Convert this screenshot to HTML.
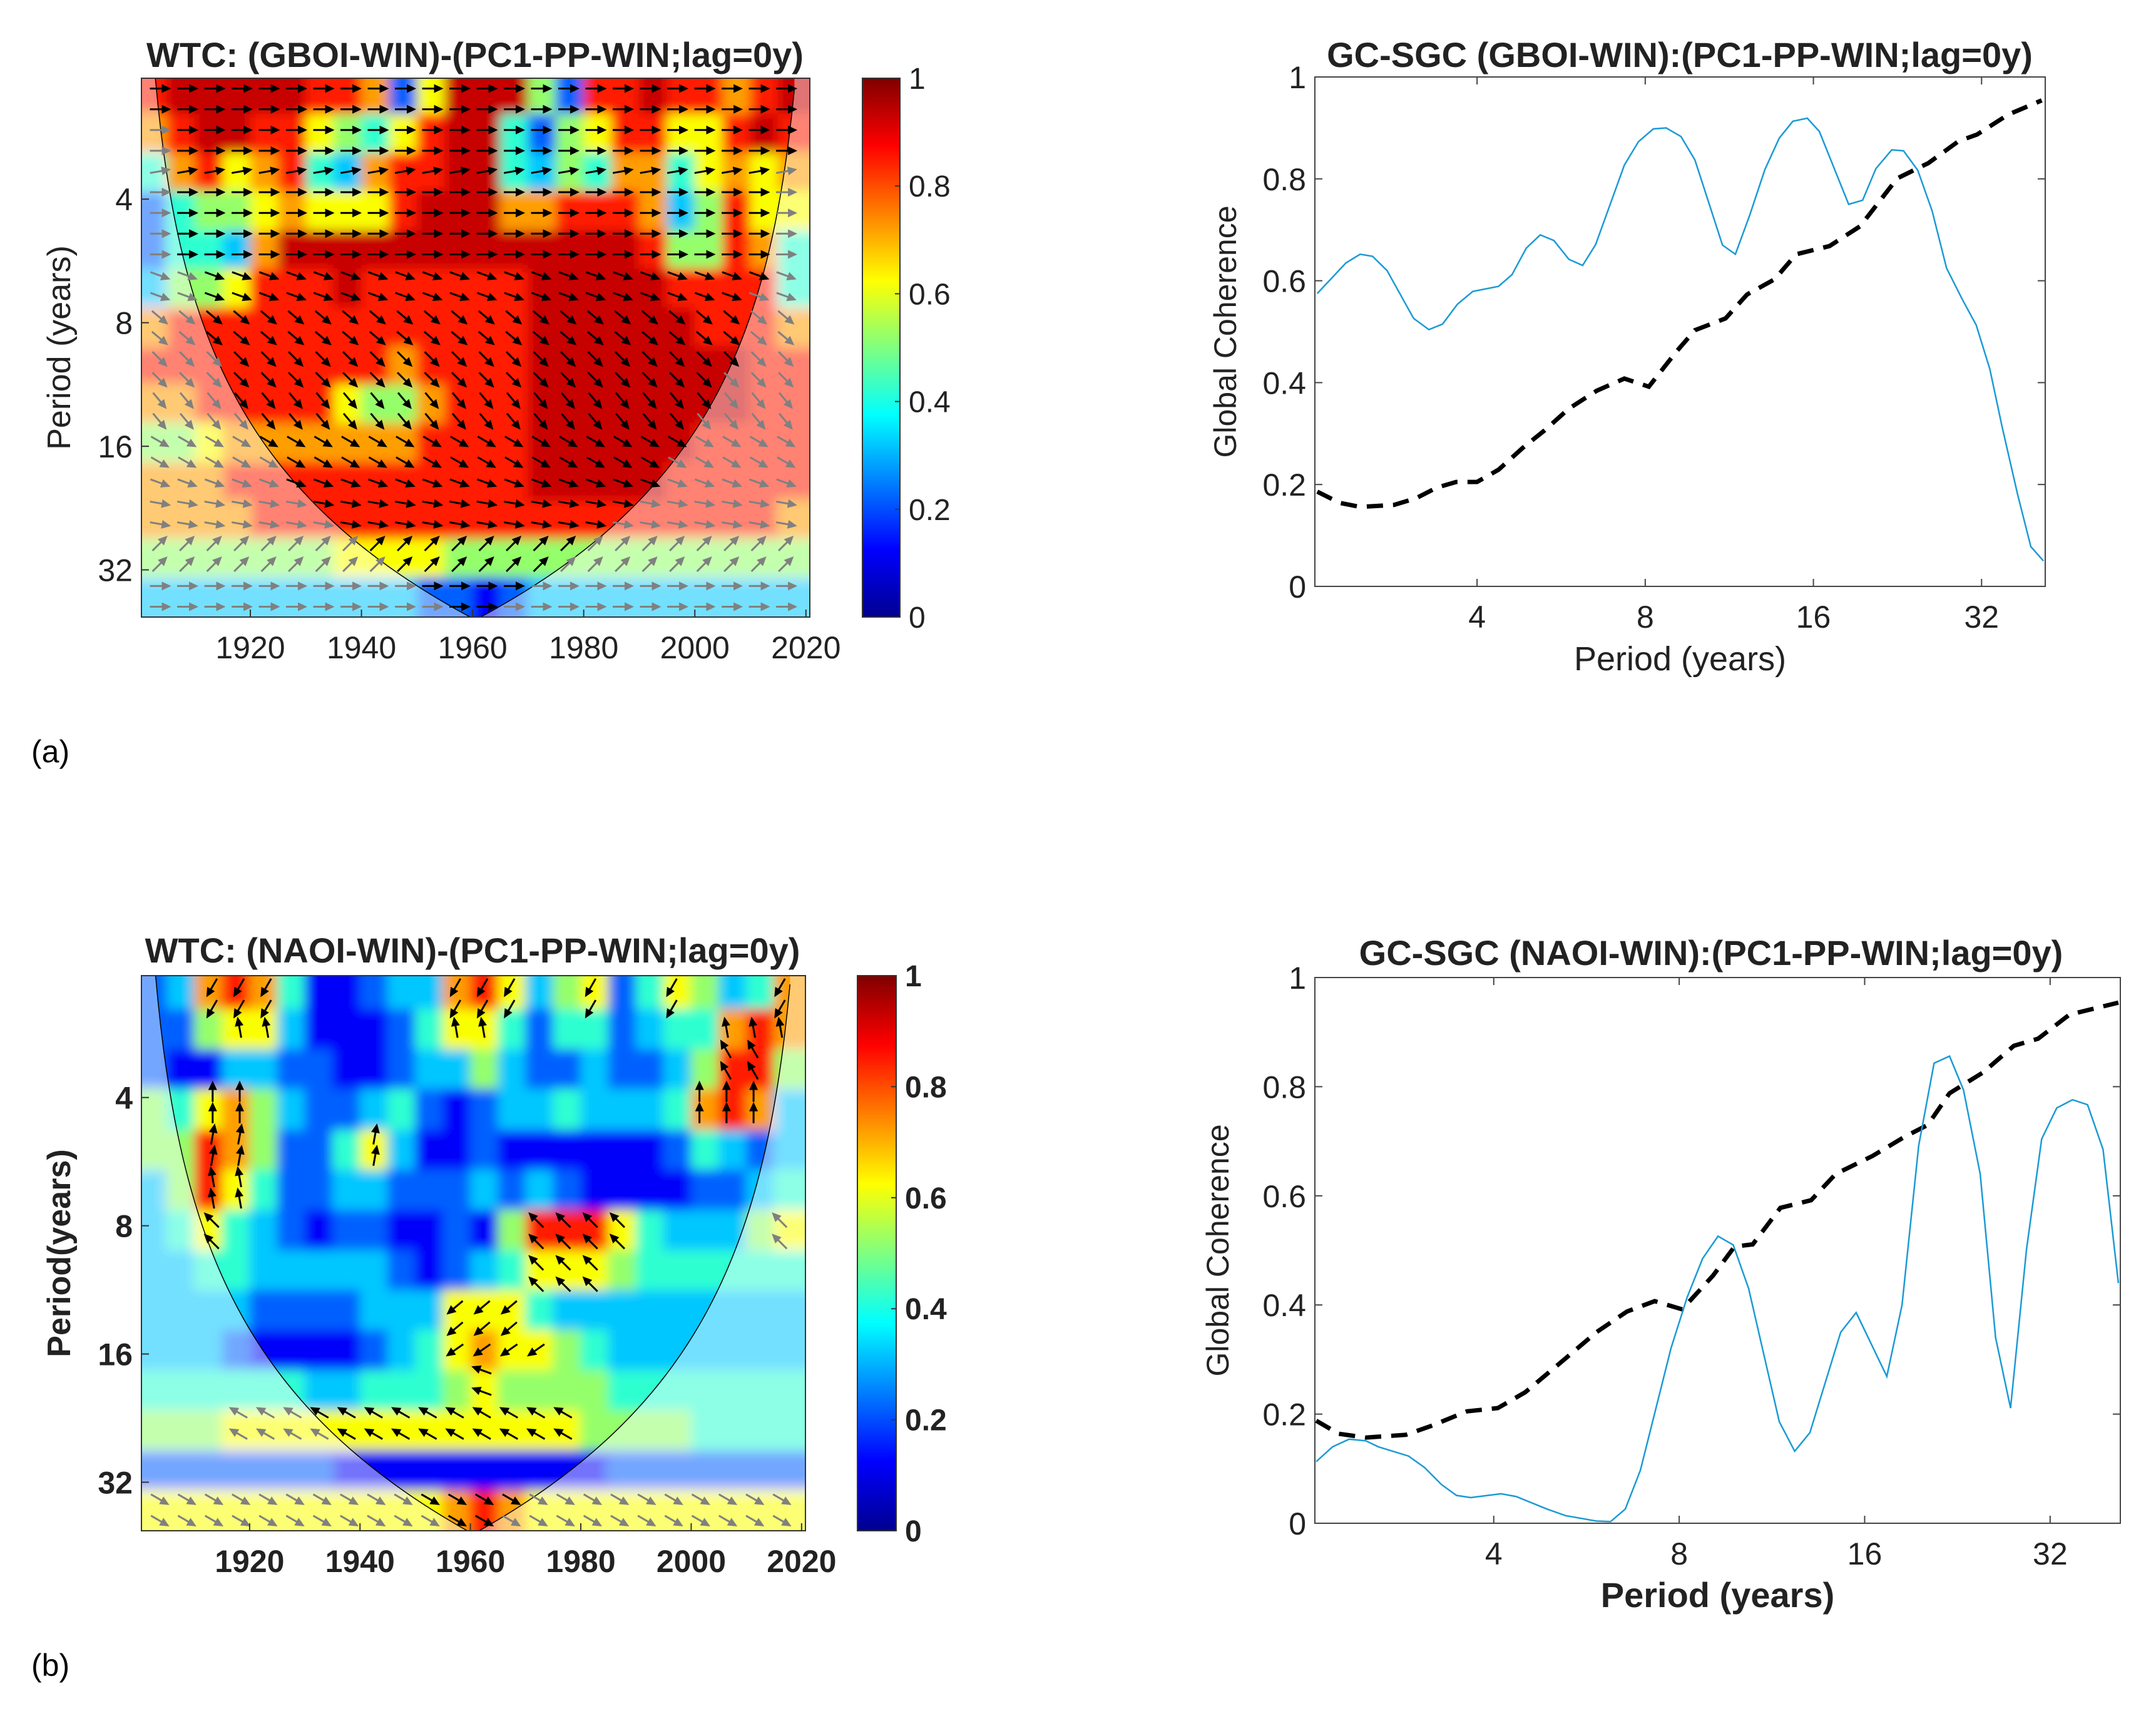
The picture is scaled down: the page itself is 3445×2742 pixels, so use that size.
<!DOCTYPE html>
<html><head><meta charset="utf-8"><style>
html,body{margin:0;padding:0;background:#fff}
svg{display:block;font-family:"Liberation Sans",sans-serif}
</style></head><body>
<svg id="fig" width="3445" height="2742" viewBox="0 0 3445 2742" xmlns="http://www.w3.org/2000/svg">
<defs>
<linearGradient id="jet" x1="0" y1="1" x2="0" y2="0">
<stop offset="0" stop-color="#00008f"/><stop offset="0.125" stop-color="#0000ff"/><stop offset="0.375" stop-color="#00ffff"/><stop offset="0.625" stop-color="#ffff00"/><stop offset="0.875" stop-color="#ff0000"/><stop offset="1" stop-color="#800000"/>
</linearGradient>
<clipPath id="clipA"><rect x="226" y="125" width="1068" height="861"/></clipPath>
<clipPath id="clipB"><rect x="226" y="1559" width="1061" height="887"/></clipPath>
<filter id="soft" x="-5%" y="-5%" width="110%" height="110%"><feGaussianBlur stdDeviation="9"/></filter>
</defs>
<g id="root"></g>
<text x="50" y="1218" font-size="50">(a)</text>
<text x="50" y="2678" font-size="50">(b)</text>
</svg>
<script>
// ---------- data ----------
const rowPeriods = [2.2,2.8,3.4,4.3,5.3,6.6,8.2,10.2,12.6,15.7,19.5,24.2,30,37.3];
const colYears = [1902.5,1907.5,1912.5,1917.5,1922.5,1927.5,1932.5,1937.5,1942.5,1947.5,1952.5,1957.5,1962.5,1967.5,1972.5,1977.5,1982.5,1987.5,1992.5,1997.5,2002.5,2007.5,2012.5,2017.5];
// coherence level codes 0..9, mapped through levelValues
const levelValues = [0.05,0.12,0.22,0.32,0.42,0.52,0.62,0.72,0.85,0.93];
const cohA = [
"899999887269995288988789","789988654689942568866898","478678437889943547746767","245567666899977888735866",
"244379999999999999855874","355688898888889999988884","788888888888889999998887","888888888788889999999988",
"778888865578889999999988","556777777788889999998888","777888888888889999988888","777788888888888888888887",
"555555566665555555555555","333333333322123333333333"];
const cohB = [
"237874112337863562465347","225663111246642442344787","211332211233532232235885","546753223421233433347873",
"558752246311211111124323","358642233222323211112234","346432122112158886433356","334433333212346665444444",
"333322223336664333333333","333211112346766543333333","444444334445655554444444","555666666666666655554444",
"222222211111111112222222","666666666667876666666666"];
const angA = [0,0,10,0,0,-20,-40,-45,-50,-30,-20,-10,45,0];
const angB = [-120,100,120,90,80,100,135,135,-140,-145,160,150,180,-30];
const gcA_p = [2.07,2.33,2.47,2.60,2.76,3.08,3.28,3.47,3.69,3.93,4.37,4.62,4.90,5.19,5.49,5.84,6.18,6.52,7.34,7.78,8.27,8.72,9.27,9.82,11.0,11.6,12.3,13.1,13.9,14.7,15.6,16.4,18.5,19.6,20.7,22.1,23.2,24.6,26.1,27.7,29.5,31.3,33.1,34.8,37.1,39.2,41.3];
const gcA_v = [0.575,0.635,0.652,0.648,0.62,0.526,0.504,0.515,0.554,0.579,0.589,0.612,0.664,0.69,0.679,0.642,0.63,0.671,0.827,0.873,0.898,0.9,0.883,0.837,0.67,0.652,0.728,0.818,0.88,0.913,0.919,0.893,0.75,0.758,0.82,0.857,0.855,0.817,0.737,0.625,0.565,0.513,0.427,0.315,0.182,0.078,0.05];
const sgA_p = [2.07,2.27,2.47,2.84,3.11,3.39,3.67,4,4.37,4.83,5.28,5.84,6.55,7.34,8.12,9.10,9.82,11.14,12.17,13.64,14.9,17.1,19.4,22.6,25.7,29.1,31.4,35.7,41.0];
const sgA_v = [0.186,0.164,0.156,0.16,0.173,0.194,0.205,0.205,0.229,0.272,0.306,0.349,0.384,0.408,0.392,0.461,0.503,0.526,0.573,0.603,0.652,0.668,0.707,0.801,0.831,0.874,0.887,0.926,0.954];
const gcB_p = [2.06,2.19,2.33,2.48,2.60,2.91,3.09,3.29,3.48,3.67,4.11,4.35,4.88,5.23,5.87,6.19,6.54,6.92,7.76,8.24,8.73,9.25,9.79,10.37,11.63,12.32,13.04,14.63,15.5,17.38,18.4,19.58,20.74,21.97,23.15,24.64,26.1,27.6,29.3,31.0,32.8,34.8,36.8,39.0,41.3];
const gcB_v = [0.113,0.14,0.154,0.151,0.14,0.123,0.102,0.071,0.051,0.047,0.054,0.049,0.026,0.014,0.004,0.003,0.026,0.097,0.321,0.414,0.485,0.526,0.51,0.43,0.186,0.132,0.166,0.35,0.386,0.269,0.4,0.692,0.843,0.856,0.794,0.64,0.34,0.211,0.502,0.704,0.761,0.776,0.767,0.685,0.44];
const sgB_p = [2.06,2.24,2.48,2.88,3.16,3.62,4.06,4.5,5.23,5.87,6.58,7.30,8.09,9.08,9.84,10.53,11.68,13.1,14.36,16.48,18.5,20.26,21.97,24.9,27.95,30.6,34.4,41.3];
const sgB_v = [0.188,0.164,0.157,0.162,0.178,0.205,0.211,0.24,0.302,0.35,0.388,0.407,0.392,0.454,0.507,0.511,0.578,0.592,0.64,0.673,0.707,0.73,0.788,0.826,0.875,0.888,0.932,0.954];
const periodTicks = [4,8,16,32];
const yearTicks = [1920,1940,1960,1980,2000,2020];
const cohTicks = [0,0.2,0.4,0.6,0.8,1];
const cohTickLabels = ["0","0.2","0.4","0.6","0.8","1"];

// ---------- helpers ----------
const NS="http://www.w3.org/2000/svg";
const root=document.getElementById('root');
function mk(tag,attrs,parent){const e=document.createElementNS(NS,tag);for(const k in attrs)e.setAttribute(k,attrs[k]);(parent||root).appendChild(e);return e;}
function jet(v){v=Math.max(0,Math.min(1,v));
 const r=Math.max(0,Math.min(1,Math.min(4*v-1.5,-4*v+4.5)));
 const g=Math.max(0,Math.min(1,Math.min(4*v-0.5,-4*v+3.5)));
 const b=Math.max(0,Math.min(1,Math.min(4*v+0.5,-4*v+2.5)));
 return `rgb(${Math.round(r*255)},${Math.round(g*255)},${Math.round(b*255)})`;}
function text(x,y,s,size,anchor,bold,name,parent,rot){
 const t=mk('text',{x:x,y:y,'font-size':size,'text-anchor':anchor||'middle','fill':'#222'},parent);
 if(bold)t.setAttribute('font-weight','bold');
 if(rot)t.setAttribute('transform',`rotate(-90 ${x} ${y})`);
 
 
 t.textContent=s;return t;}

function heatPanel(cfg){
 const {L,R,T,B,pmin,pmax,data,ang,clip,bold,title,titleX,titleY,ylabel,prefix}=cfg;
 const g=mk('g',{'clip-path':`url(#${clip})`});
 
 
 const cells=mk('g',{filter:'url(#soft)'},g);
 const X=y=>L+(y-1900.4)/(2020.7-1900.4)*(R-L);
 const Y=p=>T+(Math.log2(p)-Math.log2(pmin))/(Math.log2(pmax)-Math.log2(pmin))*(B-T);
 const coiP=t=>Math.max(0.1,0.7*Math.min(t-1900,2021-t));
 const nR=rowPeriods.length,nC=colYears.length;
 for(let i=0;i<nR;i++){
  const p0=i===0?pmin*0.6:Math.sqrt(rowPeriods[i-1]*rowPeriods[i]);
  const p1=i===nR-1?pmax*1.6:Math.sqrt(rowPeriods[i]*rowPeriods[i+1]);
  for(let j=0;j<nC;j++){
   const v=levelValues[+data[i][j]];
   const y0=j===0?colYears[j]-12:colYears[j]-2.5;
   const y1=j===nC-1?colYears[j]+12:colYears[j]+2.5;
   const r=mk('rect',{x:X(y0)-0.5,y:Y(p0)-0.5,width:X(y1)-X(y0)+1,height:Y(p1)-Y(p0)+1,fill:jet(v)},cells);
   
   
  }
 }
 let pts=[];for(let t=1902.9;t<=2018.1;t+=0.5)pts.push([X(t),Y(Math.min(coiP(t),60))]);
 let dd=`M${X(1895)},${Y(1.5)} L${X(1902.9)},${Y(1.5)} `+pts.map(q=>`L${q[0]},${q[1]}`).join(' ')+` L${X(2018.1)},${Y(1.5)} L${X(2025)},${Y(1.5)} L${X(2025)},${Y(60)} L${X(1895)},${Y(60)} Z`;
 const ov=mk('path',{d:dd,fill:'#fff','fill-opacity':0.45,'fill-rule':'evenodd'},g);
 
 
 const cl=mk('path',{d:'M'+pts.map(q=>`${q[0]},${q[1]}`).join(' L'),fill:'none',stroke:'#000','stroke-width':1.5},g);
 
 
 const lp0=Math.log2(pmin),lp1=Math.log2(pmax),nAr=26;
 for(let k=0;k<nAr;k++){
  const p=Math.pow(2,lp0+(k+0.5)*(lp1-lp0)/nAr);
  let i=0,best=1e9;rowPeriods.forEach((rp,ii)=>{const d=Math.abs(Math.log2(rp)-Math.log2(p));if(d<best){best=d;i=ii;}});
  for(let t=1903.5;t<2020;t+=4.9){
   let j=Math.min(nC-1,Math.max(0,Math.floor((t-1900)/5)));
   const v=+data[i][j];
   if(cfg.minArrow && v<cfg.minArrow)continue;
   const inside=coiP(t)>p;
   const cx=X(t),cy=Y(p);
   const a=ang[i]*Math.PI/180, len=14;
   const dx=Math.cos(a)*len, dy=-Math.sin(a)*len;
   const col=inside?'#000':'#808080';
   const ln=mk('line',{x1:cx-dx,y1:cy-dy,x2:cx+dx,y2:cy+dy,stroke:col,'stroke-width':3},g);
   
   
   const ux=dx/len,uy=dy/len,hx=cx+dx,hy=cy+dy;
   const hd=mk('polygon',{points:`${hx+ux*6},${hy+uy*6} ${hx-ux*9-uy*7},${hy-uy*9+ux*7} ${hx-ux*9+uy*7},${hy-uy*9-ux*7}`,fill:col},g);
   
   
  }
 }
 const fr=mk('rect',{x:L,y:T,width:R-L,height:B-T,fill:'none',stroke:'#333','stroke-width':2});
 
 
 periodTicks.forEach(p=>{
  const ty=Y(p);
  const tk=mk('line',{x1:L,y1:ty,x2:L+12,y2:ty,stroke:'#333','stroke-width':2});
  
  
  text(L-14,ty+18,String(p),50,'end',bold,'y-tick-label');
 });
 yearTicks.forEach(y=>{
  const tx=X(y);
  const tk=mk('line',{x1:tx,y1:B,x2:tx,y2:B-12,stroke:'#333','stroke-width':2});
  
  
  text(tx,B+66,String(y),50,'middle',bold,'x-tick-label');
 });
 text(titleX,titleY+19,title,56,'middle',true,prefix+'-title');
 text(112,(T+B)/2,ylabel,52,'middle',bold,'y-axis-title',null,true);
 const cb=mk('rect',{x:cfg.cbL,y:T,width:cfg.cbW,height:B-T,fill:'url(#jet)',stroke:'#333','stroke-width':2});
 
 
 cohTicks.forEach((c,k)=>{
  const ty=B-c*(B-T);
  const tk=mk('line',{x1:cfg.cbL+cfg.cbW,y1:ty,x2:cfg.cbL+cfg.cbW-8,y2:ty,stroke:'#333','stroke-width':2});
  
  
  text(cfg.cbL+cfg.cbW+14,ty+17,cohTickLabels[k],48,'start',bold,'colorbar-tick-label');
 });
}

function gcPanel(cfg){
 const {L,R,T,B,title,titleX,titleY,bold,prefix}=cfg;
 const pmin=2.05,pmax=41.6;
 const X=p=>L+(Math.log2(p)-Math.log2(pmin))/(Math.log2(pmax)-Math.log2(pmin))*(R-L);
 const Y=v=>B-v*(B-T);
 const fr=mk('rect',{x:L,y:T,width:R-L,height:B-T,fill:'none',stroke:'#444','stroke-width':2});
 
 
 cohTicks.forEach((c,k)=>{
  const ty=Y(c);
  const t1=mk('line',{x1:L,y1:ty,x2:L+12,y2:ty,stroke:'#444','stroke-width':2});
  
  
  const t2=mk('line',{x1:R,y1:ty,x2:R-12,y2:ty,stroke:'#444','stroke-width':2});
  
  
  text(L-14,ty+18,cohTickLabels[k],50,'end',false,'y-tick-label');
 });
 periodTicks.forEach(p=>{
  const tx=X(p);
  const t1=mk('line',{x1:tx,y1:B,x2:tx,y2:B-12,stroke:'#444','stroke-width':2});
  
  
  const t2=mk('line',{x1:tx,y1:T,x2:tx,y2:T+12,stroke:'#444','stroke-width':2});
  
  
  text(tx,B+66,String(p),50,'middle',false,'x-tick-label');
 });
 const lineD=(ps,vs)=>ps.map((p,i)=>(i?'L':'M')+X(p).toFixed(1)+','+Y(vs[i]).toFixed(1)).join(' ');
 const sg=mk('path',{d:lineD(cfg.sp,cfg.sv),fill:'none',stroke:'#000','stroke-width':7,'stroke-dasharray':'26 16'});
 
 
 const gc=mk('path',{d:lineD(cfg.gp,cfg.gv),fill:'none',stroke:'#1a9ad6','stroke-width':2.5});
 
 
 text(titleX,titleY+19,title,56,'middle',true,prefix+'-title');
 text((L+R)/2,B+134,'Period (years)',cfg.xlSize,'middle',bold,'x-axis-title');
 text(cfg.ylX,(T+B)/2,'Global Coherence',50,'middle',false,'y-axis-title',null,true);
}

heatPanel({L:226,R:1294,T:125,B:986,pmin:2.03,pmax:41.7,data:cohA,ang:angA,clip:'clipA',bold:false,
 title:'WTC: (GBOI-WIN)-(PC1-PP-WIN;lag=0y)',titleX:759,titleY:88,ylabel:'Period (years)',prefix:'wtc-a',cbL:1378,cbW:60});
heatPanel({L:226,R:1287,T:1559,B:2446,pmin:2.07,pmax:41.6,data:cohB,ang:angB,clip:'clipB',bold:true,minArrow:6,
 title:'WTC: (NAOI-WIN)-(PC1-PP-WIN;lag=0y)',titleX:755,titleY:1519,ylabel:'Period(years)',prefix:'wtc-b',cbL:1370,cbW:62});
gcPanel({L:2101,R:3268,T:123,B:937,title:'GC-SGC (GBOI-WIN):(PC1-PP-WIN;lag=0y)',titleX:2684,titleY:88,bold:false,prefix:'gc-a',
 gp:gcA_p,gv:gcA_v,sp:sgA_p,sv:sgA_v,xlSize:54,ylX:1975});
gcPanel({L:2101,R:3388,T:1562,B:2434,title:'GC-SGC (NAOI-WIN):(PC1-PP-WIN;lag=0y)',titleX:2734,titleY:1523,bold:true,prefix:'gc-b',
 gp:gcB_p,gv:gcB_v,sp:sgB_p,sv:sgB_v,xlSize:56,ylX:1963});
</script>
</body></html>
